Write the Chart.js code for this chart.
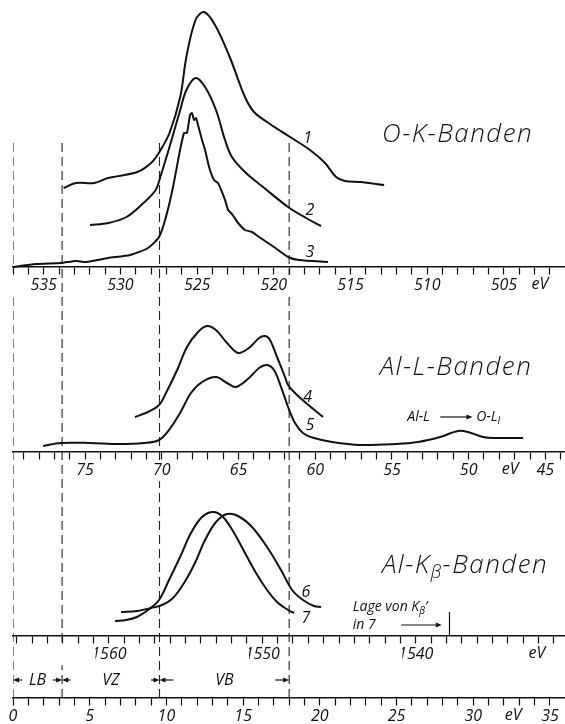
<!DOCTYPE html>
<html>
<head>
<meta charset="utf-8">
<script src="https://cdn.jsdelivr.net/npm/chart.js@4/dist/chart.umd.min.js"></script>
<style>
  html, body { margin: 0; padding: 0; background: #fff; }
  #wrap { width: 565px; height: 724px; position: relative; }
</style>
</head>
<body>
<div id="wrap"><canvas id="c"></canvas></div>
<script>
// O-K bands (eV, intensity in arb. units above baseline)
const ok1E = [533.7, 532.9, 531.7, 530.8, 528.9, 528.0, 527.5, 526.8, 526.1, 525.7, 525.1, 524.55, 523.83, 522.85, 521.88, 521.29, 520.25, 518.94, 517.64, 516.66, 515.94, 515.36, 514.38, 512.81];
const ok1I = [79, 84, 84, 89, 95, 104, 114, 134, 170, 210, 247, 255, 242, 209, 170, 155, 143, 130, 117, 104, 90, 86, 85, 82];
const ok2E = [531.98, 530.8, 529.6, 528.5, 527.7, 527.4, 526.8, 526.1, 525.7, 525.1, 524.48, 523.77, 523.18, 522.73, 521.88, 520.7, 519.07, 517.9, 516.92];
const ok2I = [42, 44, 50, 64, 77, 90, 120, 157, 177, 189, 180, 157, 127, 110, 95, 80, 60, 49, 41];
const ok3E = [537.0, 535.5, 533.87, 532.9, 532.24, 530.8, 529.37, 528.2, 527.48, 527.03, 526.57, 526.11, 525.85, 525.66, 525.46, 525.33, 525.2, 525.07, 524.94, 524.68, 524.48, 524.22, 523.9, 523.64, 523.38, 523.18, 522.98, 522.79, 522.59, 522.33, 521.88, 521.42, 520.96, 519.99, 519.07, 518.36, 516.47];
const ok3I = [0, 3, 4, 6, 5, 9, 12, 19, 30, 50, 80, 117, 134, 134, 152, 154, 147, 149, 142, 127, 117, 100, 87, 84, 75, 67, 57, 54, 50, 44, 37, 35, 30, 20, 10, 7, 5];

// Al-L bands
const al4E = [71.75, 70.9, 70.18, 69.73, 69.0, 68.36, 67.64, 67.05, 66.47, 65.75, 65.03, 64.32, 63.66, 63.27, 62.95, 62.49, 61.97, 61.77, 61.32, 60.6, 59.49];
const al4I = [35, 40, 47, 59, 82, 105, 120, 126, 122, 109, 99, 104, 114, 116, 112, 95, 75, 67, 59, 49, 35];
const al5E = [77.74, 76.57, 74.68, 72.79, 71.16, 70.18, 69.53, 68.81, 68.1, 67.38, 66.47, 65.75, 65.16, 64.32, 63.66, 63.14, 62.69, 62.23, 61.77, 61.32, 60.8, 60.08, 58.9, 57.08, 54.73, 53.3, 51.86, 50.69, 50.04, 49.06, 48.15, 46.45];
const al5I = [6, 9, 9, 8, 9, 12, 22, 39, 59, 70, 75, 69, 65, 74, 84, 87, 82, 65, 45, 29, 19, 14, 10, 7, 8, 10, 15, 21, 20, 15, 14, 14];

// Al-Kbeta bands
const kb6E = [1559.21, 1558.17, 1557.25, 1556.54, 1555.82, 1555.1, 1554.39, 1553.73, 1553.02, 1552.3, 1551.58, 1550.67, 1549.69, 1548.78, 1548.06, 1547.35, 1546.63, 1546.17];
const kb6I = [24, 25, 28, 31, 38, 53, 73, 96, 114, 122, 120, 109, 89, 66, 46, 36, 30, 29];
const kb7E = [1559.6, 1558.88, 1558.17, 1557.45, 1556.73, 1556.08, 1555.36, 1554.65, 1553.93, 1553.21, 1552.56, 1551.84, 1551.13, 1550.41, 1549.69, 1549.04, 1548.32, 1547.93];
const kb7I = [15, 16, 19, 26, 36, 56, 79, 103, 119, 124, 119, 103, 83, 63, 46, 34, 26, 23];
const kbPrimeE = 1537.8;

// band edges on the common 0..35 eV scale
const bandEdges = [0, 3.2, 9.55, 18.0];
const bandNames = ['LB', 'VZ', 'VB'];

// tick labels
const okLabels = [535, 530, 525, 520, 515, 510, 505];
const alLabels = [75, 70, 65, 60, 55, 50, 45];
const kbLabels = [1560, 1550, 1540];
const ebLabels = [0, 5, 10, 15, 20, 25, 30, 35];

// layout
const H = 724;
const EB_SPAN = 35.98;
const OK_AT0 = 537, AL_AT0 = 79.7, KB_AT0 = 1566.25;
const OK_BASE = 267, AL_BASE = 452, KB_BASE = 636, EB_BASE = 698;
const DASH_TOP = 555;
const FAM = '"Open Sans", "Liberation Sans", sans-serif';
const tickFont = { family: FAM, style: 'italic', size: 16 };

function frameY(base) {
  return { type: 'linear', display: false, min: base - H, max: base };
}

function energyAxis(yId, at0, labels, reverse) {
  const min = reverse ? at0 - EB_SPAN : at0;
  const max = reverse ? at0 : at0 + EB_SPAN;
  return {
    type: 'linear', reverse: reverse, min: min, max: max,
    position: { [yId]: 0 },
    afterBuildTicks: scale => {
      const t = [];
      for (let v = Math.ceil(min); v <= max; v++) t.push({ value: v });
      scale.ticks = t;
    },
    ticks: {
      autoSkip: false, maxRotation: 0, minRotation: 0, padding: 2, color: '#111', font: tickFont,
      z: 1, showLabelBackdrop: true, backdropColor: '#fff', backdropPadding: { top: 1, bottom: 1, left: 2, right: 2 },
      callback: v => labels.includes(v) ? String(v) : ''
    },
    grid: { drawOnChartArea: false, tickLength: 7, tickWidth: 1.2, tickColor: '#111' },
    border: { color: '#111', width: 1.5 }
  };
}

function curve(E, I, xId, yId, tension) {
  return {
    data: E.map((e, i) => ({ x: e, y: I[i] })),
    xAxisID: xId, yAxisID: yId, showLine: true,
    borderColor: '#111', borderWidth: 2, pointRadius: 0, tension: tension, fill: false
  };
}

const edgeSets = bandEdges.map(e => ({
  data: [{ x: e, y: DASH_TOP }, { x: e, y: 0 }],
  xAxisID: 'x', yAxisID: 'yEB', showLine: true,
  borderColor: '#222', borderWidth: 1.1, borderDash: [9, 5], pointRadius: 0
}));

const primeSet = {
  data: [{ x: kbPrimeE, y: 0 }, { x: kbPrimeE, y: 24 }],
  xAxisID: 'xKB', yAxisID: 'yKB', showLine: true,
  borderColor: '#111', borderWidth: 1.2, pointRadius: 0
};

function arrow(ctx, x1, x2, y) {
  const d = x2 > x1 ? 1 : -1;
  ctx.beginPath();
  ctx.moveTo(x1, y);
  ctx.lineTo(x2 - d * 4, y);
  ctx.stroke();
  ctx.beginPath();
  ctx.moveTo(x2, y);
  ctx.lineTo(x2 - d * 6, y - 2.5);
  ctx.lineTo(x2 - d * 6, y + 2.5);
  ctx.closePath();
  ctx.fill();
}

function rich(ctx, parts, x, y) {
  parts.forEach(p => {
    ctx.font = p[1];
    ctx.fillText(p[0], x, y + (p[2] || 0));
    x += ctx.measureText(p[0]).width;
  });
}

const notes = {
  id: 'notes',
  afterDraw(chart) {
    const ctx = chart.ctx, s = chart.scales;
    const X = v => s.x.getPixelForValue(v);
    ctx.save();
    ctx.fillStyle = '#111';
    ctx.strokeStyle = '#111';
    ctx.lineWidth = 1.2;
    ctx.textBaseline = 'alphabetic';
    ctx.textAlign = 'left';

    const big = 'italic 300 26px ' + FAM;
    const bigSub = 'italic 300 18px ' + FAM;
    ctx.letterSpacing = '1.5px';
    rich(ctx, [['O-K-Banden', big]], X(24.05), s.yOK.getPixelForValue(125));
    rich(ctx, [['Al-L-Banden', big]], X(23.9), s.yAL.getPixelForValue(77));
    rich(ctx, [['Al-K', big], ['\u03b2', bigSub, 5], ['-Banden', big]], X(24.05), s.yKB.getPixelForValue(63));
    ctx.letterSpacing = '0px';

    // curve numbers
    ctx.font = 'italic 16px ' + FAM;
    ctx.textAlign = 'center';
    ctx.textBaseline = 'middle';
    [['1', 19.2, 'yOK', 129], ['2', 19.35, 'yOK', 57], ['3', 19.35, 'yOK', 15],
     ['4', 19.2, 'yAL', 55], ['5', 19.35, 'yAL', 27],
     ['6', 19.1, 'yKB', 44], ['7', 19.1, 'yKB', 18]].forEach(n => {
      ctx.fillText(n[0], X(n[1]), s[n[2]].getPixelForValue(n[3]));
    });

    // unit labels on the axes
    ctx.textBaseline = 'top';
    [[34.35, 'yOK'], [32.4, 'yAL'], [34.15, 'yKB'], [32.6, 'yEB']].forEach(u => {
      ctx.fillText('eV', X(u[0]), s[u[1]].getPixelForValue(0) + 9);
    });

    // satellite annotation
    const small = 'italic 14px ' + FAM;
    const tiny = 'italic 10px ' + FAM;
    ctx.textAlign = 'left';
    ctx.textBaseline = 'middle';
    const ya = s.yAL.getPixelForValue(35);
    rich(ctx, [['Al-L', small]], X(25.7), ya);
    arrow(ctx, X(27.85), X(29.95), ya);
    rich(ctx, [['O-L', small], ['I', tiny, 4]], X(30.2), ya);

    const yk1 = s.yKB.getPixelForValue(29), yk2 = s.yKB.getPixelForValue(11);
    rich(ctx, [['Lage von K', small], ['\u03b2', tiny, 4], ['\u2019', small]], X(22.15), yk1);
    rich(ctx, [['in 7', small]], X(22.15), yk2);
    arrow(ctx, X(25.3), X(27.95), yk2);

    // band names with arrows
    const yb = s.yEB.getPixelForValue(18);
    ctx.font = 'italic 16px ' + FAM;
    ctx.textAlign = 'center';
    const arrowLen = [0.6, 0.55, 0.9];
    bandNames.forEach((name, i) => {
      const a = bandEdges[i], b = bandEdges[i + 1];
      ctx.fillText(name, X((a + b) / 2), yb);
      arrow(ctx, X(a + arrowLen[i]), X(a), yb);
      arrow(ctx, X(b - arrowLen[i]), X(b), yb);
    });
    ctx.restore();
  }
};

new Chart(document.getElementById('c'), {
  type: 'scatter',
  data: {
    datasets: [
      curve(ok1E, ok1I, 'xOK', 'yOK', 0.35),
      curve(ok2E, ok2I, 'xOK', 'yOK', 0.35),
      curve(ok3E, ok3I, 'xOK', 'yOK', 0.2),
      curve(al4E, al4I, 'xAL', 'yAL', 0.35),
      curve(al5E, al5I, 'xAL', 'yAL', 0.35),
      curve(kb6E, kb6I, 'xKB', 'yKB', 0.35),
      curve(kb7E, kb7I, 'xKB', 'yKB', 0.35),
      primeSet
    ].concat(edgeSets)
  },
  options: {
    responsive: true,
    maintainAspectRatio: false,
    animation: false,
    events: [],
    layout: { padding: { left: 13, right: 0, top: 0, bottom: 0 } },
    plugins: { legend: { display: false }, tooltip: { enabled: false } },
    scales: {
      yOK: frameY(OK_BASE),
      yAL: frameY(AL_BASE),
      yKB: frameY(KB_BASE),
      yEB: frameY(EB_BASE),
      xOK: energyAxis('yOK', OK_AT0, okLabels, true),
      xAL: energyAxis('yAL', AL_AT0, alLabels, true),
      xKB: energyAxis('yKB', KB_AT0, kbLabels, true),
      x: energyAxis('yEB', 0, ebLabels, false)
    }
  },
  plugins: [notes]
});
</script>
</body>
</html>
